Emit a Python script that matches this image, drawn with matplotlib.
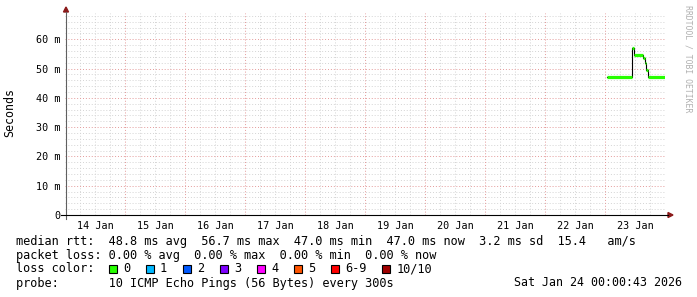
import matplotlib
matplotlib.use("Agg")
import matplotlib.pyplot as plt
from matplotlib.patches import Rectangle, Polygon
import numpy as np

# ---- data ----
# time in hours since 14 Jan 00:00; median RTT in ms
rtt_times = [216.7, 226.6, 226.9, 227.4, 231.3, 231.8, 232.5, 233.1, 240.0]
rtt_values = [47.3, 52.4, 56.9, 54.6, 53.6, 51.8, 49.5, 47.2, 47.2]
day_labels = ["14 Jan", "15 Jan", "16 Jan", "17 Jan", "18 Jan",
              "19 Jan", "20 Jan", "21 Jan", "22 Jan", "23 Jan"]
y_ticks = [0, 10, 20, 30, 40, 50, 60]
y_tick_labels = ["0", "10 m", "20 m", "30 m", "40 m", "50 m", "60 m"]
loss_labels = ["0", "1", "2", "3", "4", "5", "6-9", "10/10"]
loss_colors = ["#26ff00", "#00b8ff", "#0059ff", "#7e00ff", "#ff00ff",
               "#ff5500", "#ff0000", "#a00000"]
stats_line1 = "median rtt:  48.8 ms avg  56.7 ms max  47.0 ms min  47.0 ms now  3.2 ms sd  15.4   am/s"
stats_line2 = "packet loss: 0.00 % avg  0.00 % max  0.00 % min  0.00 % now"
probe_text = "probe:       10 ICMP Echo Pings (56 Bytes) every 300s"
date_text = "Sat Jan 24 00:00:43 2026"

W, H = 697, 297
plt.rcParams['font.family'] = ['DejaVu Sans Mono']
fig = plt.figure(figsize=(W / 100, H / 100), dpi=100)

def fx(x):
    return x / W

def fy(y):
    return 1 - y / H

x0, x1 = 65, 665
y_top, y_bot = 13, 215
ax = fig.add_axes([fx(x0), fy(y_bot), (x1 - x0) / W, (y_bot - y_top) / H])
ax.set_xlim(0, 240)
ax.set_ylim(0, 69)
for s in ax.spines.values():
    s.set_visible(False)

# grid
minor_c = "#d4d4d4"
major_c = "#e49a9a"
ds = (0, (1, 2))
for yv in np.arange(2, 69, 2):
    if yv % 10 == 0:
        continue
    ax.axhline(yv, color=minor_c, lw=0.7, ls=ds, zorder=1)
for xv in np.arange(6, 240, 6):
    if xv % 24 == 0:
        continue
    ax.axvline(xv, color=minor_c, lw=0.7, ls=ds, zorder=1)
for yv in y_ticks[1:]:
    ax.axhline(yv, color=major_c, lw=0.7, ls=ds, zorder=2)
for xv in range(24, 240, 24):
    ax.axvline(xv, color=major_c, lw=0.7, ls=ds, zorder=2)

# ticks
ax.set_yticks(y_ticks)
ax.set_yticklabels(y_tick_labels, fontsize=7.3)
ax.set_xticks([12 + 24 * i for i in range(len(day_labels))])
ax.set_xticklabels(day_labels, fontsize=7.3)
ax.tick_params(axis='y', length=0, pad=3, colors="#000000")
ax.tick_params(axis='x', length=0, pad=4, colors="#000000")
fig.text(fx(10), fy(113), "Seconds", rotation=90, fontsize=8.4,
         ha='center', va='center')

# data
ax.step(rtt_times, rtt_values, where='post', color="#000000", lw=0.8, zorder=4)
ax.hlines(rtt_values[:-1], rtt_times[:-1], rtt_times[1:], color="#26ff00",
          lw=2.3, zorder=5)

# axes lines and arrows (figure pixel coords)
fig.add_artist(plt.Line2D([fx(66), fx(66)], [fy(219), fy(12)], color="#606060", lw=0.8))
fig.add_artist(plt.Line2D([fx(61), fx(668)], [fy(215), fy(215)], color="#000000", lw=0.8))
fig.add_artist(Polygon([[fx(63.5), fy(12)], [fx(68.5), fy(12)], [fx(66), fy(7)]],
                       closed=True, color="#8b1a1a", transform=fig.transFigure))
fig.add_artist(Polygon([[fx(668), fy(212.5)], [fx(668), fy(217.5)], [fx(673), fy(215)]],
                       closed=True, color="#8b1a1a", transform=fig.transFigure))

# watermark
fig.text(fx(688), fy(5), "RRDTOOL / TOBI OETIKER", rotation=270, fontsize=5.9,
         color="#b0b0b0", ha='center', va='top')

# legend text
fs = 8.6
fig.text(fx(16), fy(241), stats_line1, fontsize=fs, va='center', ha='left')
fig.text(fx(16), fy(255), stats_line2, fontsize=fs, va='center', ha='left')
fig.text(fx(16), fy(269), "loss color:", fontsize=fs, va='center', ha='left')
fig.text(fx(16), fy(283), probe_text, fontsize=fs, va='center', ha='left')
fig.text(fx(682), fy(283), date_text, fontsize=8.4, va='center', ha='right')

cw = 7.1
xpos = 108.5
for lab, col in zip(loss_labels, loss_colors):
    fig.add_artist(Rectangle((fx(xpos), fy(273)), 8 / W, 8 / H, facecolor=col,
                             edgecolor="#000000", lw=0.8, transform=fig.transFigure))
    tx = xpos + 14.5
    fig.text(fx(tx), fy(269), lab, fontsize=fs, va='center', ha='left')
    xpos = tx + len(lab) * cw + 15.4

fig.savefig("out.png", dpi=100, facecolor="white")
